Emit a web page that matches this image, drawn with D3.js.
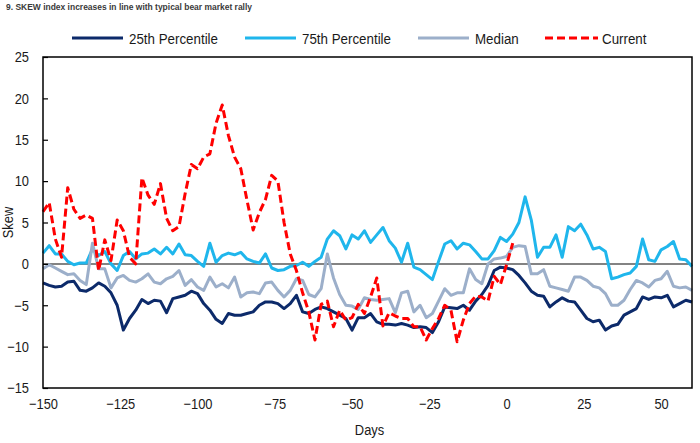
<!DOCTYPE html>
<meta charset="utf-8">
<style>
body { margin: 0; background: #fff; }
svg text { font-family: "Liberation Sans", Arial, sans-serif; fill: #1a1a1a; }
svg .title { font-weight: bold; font-size: 9px; fill: #3a3a3a; }
</style>
<body>
<svg width="700" height="443"></svg>
<script src="https://d3js.org/d3.v7.min.js"></script>
<script>
// days run from -150 in steps of 2
const dayStart = -150, dayStep = 2;

const p25 = [-2.3,-2.6,-2.8,-2.7,-2.2,-2.1,-3.2,-3.3,-2.9,-2.3,-2.7,-3.5,-5.0,-8.0,-6.6,-5.6,-4.3,-4.8,-4.4,-4.5,-5.9,-4.2,
  -4.0,-3.8,-3.3,-3.6,-4.8,-5.6,-6.7,-7.2,-6.0,-6.2,-6.2,-6.0,-5.8,-5.0,-4.6,-4.6,-4.8,-5.4,-4.8,-3.8,-5.8,
  -6.0,-5.5,-5.2,-5.4,-5.8,-6.2,-6.6,-8.0,-6.5,-6.5,-6.0,-7.0,-7.3,-7.3,-7.4,-7.2,-7.4,-7.7,-7.6,-7.7,-8.3,
  -7.0,-5.2,-5.3,-5.4,-5.0,-5.6,-4.5,-3.7,-2.6,-0.8,-0.4,-0.5,-0.7,-1.4,-2.3,-3.3,-3.8,-3.9,-5.2,-4.6,-4.1,
  -4.5,-4.6,-5.6,-6.6,-7.0,-6.8,-8.0,-7.5,-7.3,-6.2,-5.8,-5.4,-4.0,-4.3,-4.0,-4.1,-3.8,-5.2,-4.8,-4.4,-4.6];

const p75 = [1.3,2.2,1.2,1.2,0.3,-0.1,0.1,0.1,1.8,1.0,1.5,0.0,-0.8,1.0,1.5,0.6,1.2,1.3,1.8,1.2,2.0,1.2,
  2.4,1.1,1.0,0.3,-0.3,2.5,0.2,1.0,1.3,1.1,1.4,0.6,0.3,0.1,1.2,-0.5,-0.8,-0.7,-0.3,-0.2,0.2,
  -0.3,0.3,0.8,3.0,4.0,3.4,1.8,3.5,3.0,4.0,2.6,3.5,4.4,2.8,1.9,0.2,2.5,-0.4,-0.7,-1.3,-1.9,
  0.3,2.4,2.8,1.8,2.5,2.3,1.5,0.6,0.6,1.6,3.2,2.7,3.6,5.0,8.1,5.3,0.8,2.0,2.0,3.5,0.8,
  4.5,4.0,4.8,3.5,1.8,2.0,1.5,-1.8,-1.6,-1.3,-1.1,-0.3,3.0,0.5,0.3,1.7,2.1,2.7,0.6,0.5,-0.3];

const median = [-0.6,-0.1,-0.5,-0.9,-1.3,-1.2,-2.0,-2.5,2.5,-0.6,-0.6,-2.9,-1.7,-1.4,-2.0,-2.2,-1.8,-1.2,-2.2,-2.4,-1.8,-1.5,
  -0.8,-2.6,-1.9,-2.8,-3.2,-1.6,-2.8,-2.4,-2.9,-1.6,-4.0,-3.5,-3.4,-3.6,-2.3,-2.2,-3.2,-4.0,-3.2,-1.8,-2.0,
  -3.7,-4.0,-3.0,1.2,-1.7,-3.7,-5.0,-5.1,-5.5,-4.1,-4.3,-4.4,-4.3,-4.2,-5.9,-3.5,-3.3,-5.8,-5.0,-6.5,-6.0,
  -4.5,-3.0,-3.8,-3.5,-3.5,-0.6,-1.9,-2.4,0.0,0.6,0.7,0.9,2.0,2.2,2.1,-1.2,-1.2,-0.7,-2.7,-2.9,-3.1,
  -3.3,-1.6,-1.6,-2.0,-2.7,-2.9,-3.6,-5.0,-5.0,-4.4,-3.1,-2.0,-2.3,-2.8,-2.0,-1.8,-0.9,-2.7,-2.9,-2.8,-3.2];

const current = [6.3,7.4,3.0,0.8,9.2,6.6,5.5,5.9,5.5,-0.8,2.9,0.4,5.3,4.0,0.8,0.0,10.4,8.3,7.2,9.7,5.5,4.0,
  4.5,8.5,12.0,11.5,12.9,13.3,17.0,19.2,15.5,12.9,11.5,7.7,4.1,6.2,7.8,10.7,10.0,5.0,1.2,-0.8,-3.5,
  -5.8,-9.2,-4.9,-4.5,-7.6,-5.6,-6.8,-6.5,-4.9,-6.0,-4.0,-1.7,-7.5,-5.9,-6.3,-6.6,-6.6,-7.6,-7.6,-9.2,-7.8,
  -6.6,-5.0,-5.6,-9.4,-6.8,-4.8,-3.9,-4.0,-4.5,-1.5,-2.5,-0.1,2.5];

const seriesNames = ["25th Percentile", "75th Percentile", "Median", "Current"];
const xTicks = [-150, -125, -100, -75, -50, -25, 0, 25, 50];
const yTicks = [-15, -10, -5, 0, 5, 10, 15, 20, 25];

const colors = ["#0c2a6a", "#1fb6ec", "#9cafca", "#ff0000"];
const dashes = [null, null, null, "8,4"];

const svg = d3.select("svg");
const plot = { left: 43, right: 692, top: 57, bottom: 388 };

const x = d3.scaleLinear().domain([-150, 60]).range([plot.left, plot.right]);
const y = d3.scaleLinear().domain([-15, 25]).range([plot.bottom, plot.top]);

// title
svg.append("text").attr("class", "title")
  .attr("x", 6).attr("y", 10)
  .attr("textLength", 246).attr("lengthAdjust", "spacingAndGlyphs")
  .text("9. SKEW index increases in line with typical bear market rally");

// zero line
svg.append("line")
  .attr("x1", plot.left).attr("x2", plot.right)
  .attr("y1", y(0)).attr("y2", y(0))
  .attr("stroke", "#5a5a5a").attr("stroke-width", 1.5);

// series
const allSeries = [p25, p75, median, current];
const line = d3.line()
  .x((d, i) => x(dayStart + i * dayStep))
  .y(d => y(d));

allSeries.forEach((vals, k) => {
  svg.append("path")
    .datum(vals)
    .attr("fill", "none")
    .attr("stroke", colors[k])
    .attr("stroke-width", 3)
    .attr("stroke-linejoin", "round")
    .attr("stroke-dasharray", dashes[k])
    .attr("d", line);
});

// frame
svg.append("rect")
  .attr("x", plot.left).attr("y", plot.top)
  .attr("width", plot.right - plot.left).attr("height", plot.bottom - plot.top)
  .attr("fill", "none").attr("stroke", "#000").attr("stroke-width", 1.5);

// axes (text squeezed a bit, the original font is narrow)
const yAxis = svg.append("g")
  .attr("transform", `translate(${plot.left},0)`)
  .call(d3.axisLeft(y).tickValues(yTicks).tickSize(-5).tickPadding(14).tickFormat(d3.format("d")));
yAxis.select(".domain").remove();
yAxis.selectAll(".tick line").attr("stroke", "#000").attr("stroke-width", 1.2);
yAxis.selectAll("text")
  .attr("x", 0)
  .attr("transform", "translate(-14,0) scale(0.86,1)")
  .attr("font-size", 15).attr("fill", "#1a1a1a");

const xAxis = svg.append("g")
  .attr("transform", `translate(0,${plot.bottom})`)
  .call(d3.axisBottom(x).tickValues(xTicks).tickSize(0).tickPadding(10).tickFormat(d3.format("d")));
xAxis.select(".domain").remove();
xAxis.selectAll("text")
  .attr("transform", "scale(0.86,1)")
  .attr("font-size", 15).attr("fill", "#1a1a1a");

// axis titles
svg.append("text")
  .attr("transform", `translate(13,${(plot.top + plot.bottom) / 2}) rotate(-90) scale(0.86,1)`)
  .attr("text-anchor", "middle")
  .attr("font-size", 15)
  .text("Skew");

svg.append("text")
  .attr("transform", `translate(${(plot.left + plot.right) / 2 + 2},435) scale(0.86,1)`)
  .attr("text-anchor", "middle")
  .attr("font-size", 15)
  .text("Days");

// legend
const legendX = [72, 245, 418, 545];
const legend = svg.append("g").selectAll("g")
  .data(seriesNames)
  .enter().append("g")
  .attr("transform", (d, i) => `translate(${legendX[i]},38)`);

legend.append("line")
  .attr("x1", 0).attr("x2", (d, i) => i == 3 ? 53 : 51)
  .attr("stroke", (d, i) => colors[i])
  .attr("stroke-width", 3)
  .attr("stroke-dasharray", (d, i) => dashes[i]);

legend.append("text")
  .attr("transform", "translate(57,5.5) scale(0.89,1)")
  .attr("font-size", 15)
  .text(d => d);
</script>
</body>
